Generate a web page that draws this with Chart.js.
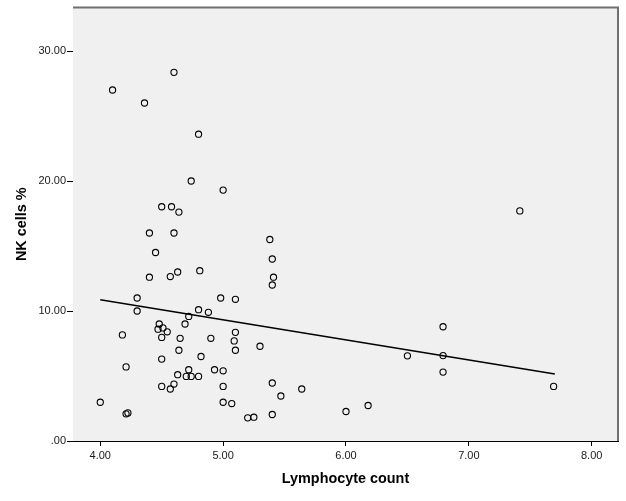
<!DOCTYPE html>
<html>
<head>
<meta charset="utf-8">
<script src="https://cdn.jsdelivr.net/npm/chart.js@4/dist/chart.umd.min.js"></script>
<style>
  html, body { margin: 0; padding: 0; background: #ffffff; }
  #wrap { width: 626px; height: 501px; }
</style>
</head>
<body>
<div id="wrap"><canvas id="c" width="626" height="501"></canvas></div>
<script>
// Lymphocyte count (x) and NK cells % (y)
const lymphocyte = [4.10, 4.60, 4.36, 4.80, 4.74, 5.00, 4.50, 4.58, 4.64, 4.40,
  4.60, 5.38, 4.45, 5.40, 4.40, 4.57, 4.63, 4.81, 5.41, 5.40,
  4.30, 4.98, 5.10, 4.30, 4.80, 4.88, 4.72, 4.48, 4.47, 4.51,
  4.545, 4.50, 4.69, 4.18, 4.65, 4.90, 5.10, 5.09, 5.10, 5.30,
  4.64, 4.82, 4.50, 4.21, 4.72, 4.63, 4.70, 4.74, 4.80, 4.93,
  5.00, 4.50, 4.60, 4.57, 5.00, 5.40, 5.47, 5.64, 4.00, 4.21,
  4.225, 5.00, 5.07, 5.20, 5.25, 5.40, 6.79, 6.50, 6.79, 6.79,
  7.69, 6.00, 6.18, 7.415];
const nkCells = [27.0, 28.36, 26.0, 23.6, 20.0, 19.3, 18.02, 18.02, 17.61, 16.0,
  16.0, 15.5, 14.5, 14.0, 12.6, 12.65, 13.0, 13.1, 12.6, 12.0,
  11.0, 11.0, 10.9, 10.0, 10.1, 9.9, 9.58, 9.0, 8.6, 8.7,
  8.4, 7.97, 9.0, 8.16, 7.9, 7.9, 8.36, 7.7, 6.98, 7.29,
  6.98, 6.5, 6.3, 5.7, 5.48, 5.1, 4.97, 4.97, 4.97, 5.48,
  5.4, 4.2, 4.38, 4.0, 4.2, 4.46, 3.46, 4.0, 2.98, 2.09,
  2.16, 2.98, 2.88, 1.78, 1.83, 2.04, 8.79, 6.55, 6.57, 5.30,
  4.2, 2.27, 2.73, 17.7];

// Fit line endpoints
const fitX = [4.00, 7.70];
const fitY = [10.86, 5.15];

// Tick values and labels
const xTicks = [4, 5, 6, 7, 8];
const xTickLabels = ['4.00', '5.00', '6.00', '7.00', '8.00'];
const yTicks = [0, 10, 20, 30];
const yTickLabels = ['.00', '10.00', '20.00', '30.00'];

const xTitle = 'Lymphocyte count';
const yTitle = 'NK cells %';

const points = lymphocyte.map((x, i) => ({ x: x, y: nkCells[i] }));
const fitPoints = fitX.map((x, i) => ({ x: x, y: fitY[i] }));

const framePlugin = {
  id: 'frame',
  beforeDatasetsDraw(chart) {
    const { ctx, chartArea: a } = chart;
    ctx.save();
    ctx.fillStyle = '#f0f0f0';
    ctx.fillRect(a.left, a.top, a.right - a.left, a.bottom - a.top);
    ctx.strokeStyle = '#707070';
    ctx.lineWidth = 2;
    ctx.beginPath();
    ctx.moveTo(a.left, a.top);
    ctx.lineTo(a.right, a.top);
    ctx.lineTo(a.right, a.bottom);
    ctx.stroke();
    ctx.restore();
  }
};

const tickFont = { family: '"Liberation Sans", Arial, sans-serif', size: 11 };
const titleFont = { family: '"Liberation Sans", Arial, sans-serif', size: 14.4, weight: 'bold' };

new Chart(document.getElementById('c'), {
  type: 'scatter',
  data: {
    datasets: [
      {
        type: 'line',
        data: fitPoints,
        borderColor: '#000000',
        borderWidth: 1.5,
        pointRadius: 0,
        fill: false,
        tension: 0,
        order: 1
      },
      {
        data: points,
        backgroundColor: 'rgba(0,0,0,0)',
        borderColor: '#000000',
        borderWidth: 1.1,
        pointRadius: 3.1,
        pointStyle: 'circle',
        order: 0
      }
    ]
  },
  options: {
    responsive: false,
    animation: false,
    devicePixelRatio: 1,
    layout: { padding: { top: 5, right: 8, left: 0, bottom: 0 } },
    plugins: {
      legend: { display: false },
      tooltip: { enabled: false }
    },
    scales: {
      x: {
        type: 'linear',
        min: 3.778,
        max: 8.214,
        afterBuildTicks(scale) { scale.ticks = xTicks.map(v => ({ value: v })); },
        afterFit(scale) { scale.height = 60; },
        ticks: {
          callback: (v) => xTickLabels[xTicks.indexOf(v)],
          font: tickFont,
          color: '#1a1a1a',
          padding: 3,
          maxRotation: 0,
          autoSkip: false
        },
        grid: {
          display: true,
          drawOnChartArea: false,
          drawTicks: true,
          tickLength: 5,
          tickColor: '#000000',
          tickWidth: 1
        },
        border: { display: true, color: '#000000', width: 1 },
        title: {
          display: true,
          text: xTitle,
          font: titleFont,
          color: '#000000',
          padding: { top: 0, bottom: 13 }
        }
      },
      y: {
        type: 'linear',
        min: 0,
        max: 33.34,
        afterBuildTicks(scale) { scale.ticks = yTicks.map(v => ({ value: v })); },
        afterFit(scale) { scale.width = 73; },
        ticks: {
          callback: (v) => yTickLabels[yTicks.indexOf(v)],
          font: tickFont,
          color: '#1a1a1a',
          padding: 1,
          autoSkip: false
        },
        grid: {
          display: true,
          drawOnChartArea: false,
          drawTicks: true,
          tickLength: 6,
          tickColor: '#000000',
          tickWidth: 1
        },
        border: { display: true, color: '#000000', width: 1 },
        title: {
          display: true,
          text: yTitle,
          font: titleFont,
          color: '#000000',
          padding: { top: 13.4, bottom: 0 }
        }
      }
    }
  },
  plugins: [framePlugin]
});
</script>
</body>
</html>
